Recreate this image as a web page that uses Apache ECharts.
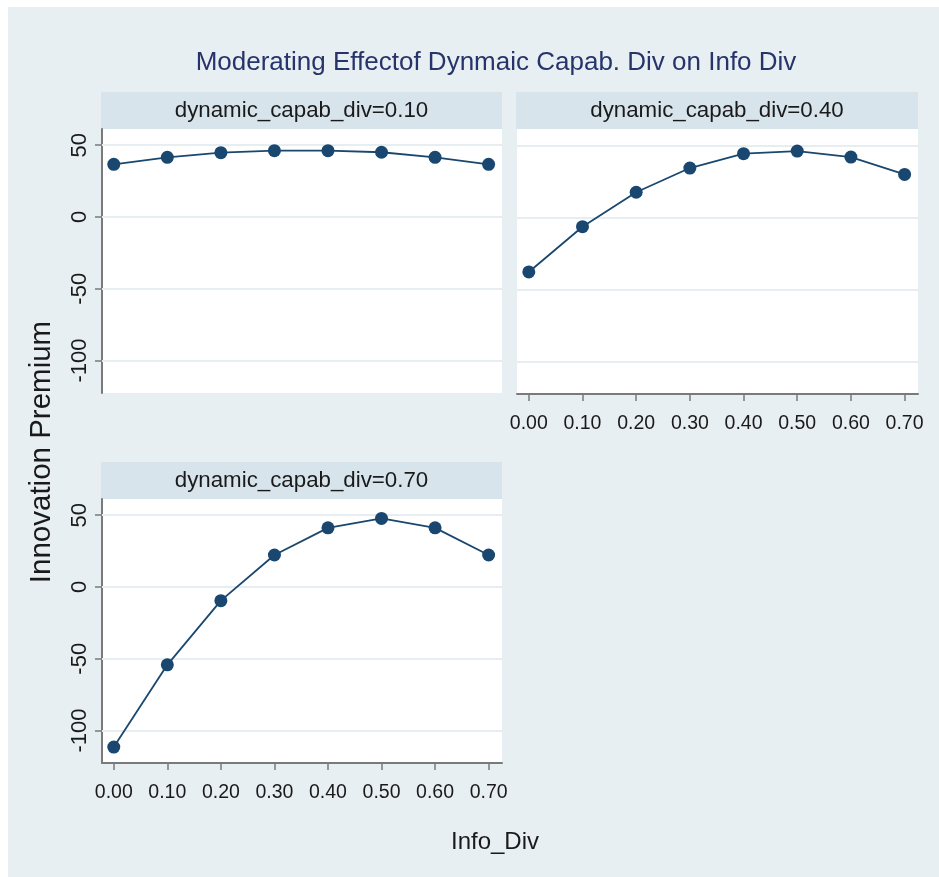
<!DOCTYPE html>
<html>
<head>
<meta charset="utf-8">
<script src="https://cdn.jsdelivr.net/npm/echarts@6/dist/echarts.min.js"></script>
<style>
html,body{margin:0;padding:0;background:#ffffff;}
#chart{width:939px;height:877px;}
</style>
</head>
<body>
<div id="chart"></div>
<script>
// ---- data ----
const infoDiv = [0.0, 0.1, 0.2, 0.3, 0.4, 0.5, 0.6, 0.7];
const xTickLabels = ['0.00','0.10','0.20','0.30','0.40','0.50','0.60','0.70'];
const yTicks = [-100, -50, 0, 50];
const panelTitles = ['dynamic_capab_div=0.10', 'dynamic_capab_div=0.40', 'dynamic_capab_div=0.70'];
const premium010 = [36.7, 41.6, 44.8, 46.2, 46.2, 45.1, 41.6, 36.7];
const premium040 = [-37.9, -6.5, 17.4, 34.2, 44.2, 46.0, 41.8, 29.8];
const premium070 = [-111.5, -54.2, -9.5, 22.3, 41.2, 47.8, 41.2, 22.3];
const chartTitle = 'Moderating Effectof Dynmaic Capab. Div on Info Div';
const yTitle = 'Innovation Premium';
const xTitle = 'Info_Div';

const FONT = "'Liberation Sans',Arial,Helvetica,sans-serif";
const NAVY = '#1a476f';
const AXIS = '#7a7a7a';
const GRIDC = '#e6eef2';

const grids = [
  {left: 102, top: 129, width: 400, height: 264},
  {left: 517, top: 129, width: 401, height: 265},
  {left: 102, top: 499, width: 400, height: 264}
];
const showX = [false, true, true];
const showY = [true, false, true];
const seriesData = [premium010, premium040, premium070];

const xAxes = grids.map((g, i) => ({
  type: 'value', gridIndex: i, min: -0.022, max: 0.725,
  axisLine: {show: showX[i], onZero: false, lineStyle: {color: AXIS, width: 2}},
  axisTick: {show: showX[i], length: 7, lineStyle: {color: AXIS, width: 1.5}, customValues: infoDiv},
  axisLabel: {show: showX[i], customValues: infoDiv, margin: 20,
    formatter: v => xTickLabels[infoDiv.findIndex(t => Math.abs(t - v) < 1e-9)] || '',
    fontFamily: FONT, fontSize: 19.5, color: '#1a1a1a'},
  splitLine: {show: false}
}));
const yAxes = grids.map((g, i) => ({
  type: 'value', gridIndex: i, min: -122.6, max: 61.3,
  axisLine: {show: showY[i], onZero: false, lineStyle: {color: AXIS, width: 2}},
  axisTick: {show: showY[i], length: 7, lineStyle: {color: AXIS, width: 1.5}, customValues: yTicks},
  axisLabel: {show: showY[i], customValues: yTicks, rotate: 90, margin: 11,
    fontFamily: FONT, fontSize: 22, color: '#1a1a1a'},
  splitLine: {show: false}
}));
const series = seriesData.map((d, i) => ({
  type: 'line', xAxisIndex: i, yAxisIndex: i,
  data: infoDiv.map((x, k) => [x, d[k]]),
  symbol: 'circle', symbolSize: 13,
  itemStyle: {color: NAVY},
  lineStyle: {color: NAVY, width: 1.8},
  z: 5,
  markLine: {
    silent: true, symbol: 'none', label: {show: false}, animation: false, z: 1,
    lineStyle: {color: GRIDC, width: 2, type: 'solid'},
    data: yTicks.map(v => ({yAxis: v}))
  }
}));

const strips = grids.map((g, i) => ({
  type: 'group', left: g.left - 1, top: g.top - 37,
  children: [
    {type: 'rect', shape: {x: 0, y: 0, width: g.width + 1, height: 37}, style: {fill: '#d8e4eb'}},
    {type: 'text', x: (g.width + 1) / 2, y: 18.5,
     style: {text: panelTitles[i], fontFamily: FONT, fontSize: 22.3, fill: '#1a1a1a', align: 'center', verticalAlign: 'middle'}}
  ]
}));

const option = {
  animation: false,
  backgroundColor: '#ffffff',
  title: [
    {text: chartTitle, left: 491, top: 45, textAlign: 'center',
     textStyle: {fontFamily: FONT, fontSize: 26, fontWeight: 'normal', color: '#26346a'}},
    {text: xTitle, left: 490, top: 825, textAlign: 'center',
     textStyle: {fontFamily: FONT, fontSize: 24, fontWeight: 'normal', color: '#1a1a1a'}}
  ],
  grid: grids.map(g => Object.assign({containLabel: false, backgroundColor: '#ffffff', show: true, borderWidth: 0}, g)),
  xAxis: xAxes,
  yAxis: yAxes,
  series: series,
  graphic: [
    {type: 'rect', left: 8, top: 7, z: -10, shape: {width: 931, height: 870}, style: {fill: '#e8eff2'}},
    ...strips,
    {type: 'text', x: 42, y: 452, rotation: Math.PI / 2,
     style: {text: yTitle, fontFamily: FONT, fontSize: 29.5, fill: '#1a1a1a', align: 'center', verticalAlign: 'middle'}}
  ]
};
const chart = echarts.init(document.getElementById('chart'), null, {renderer: 'canvas'});
chart.setOption(option);
</script>
</body>
</html>
